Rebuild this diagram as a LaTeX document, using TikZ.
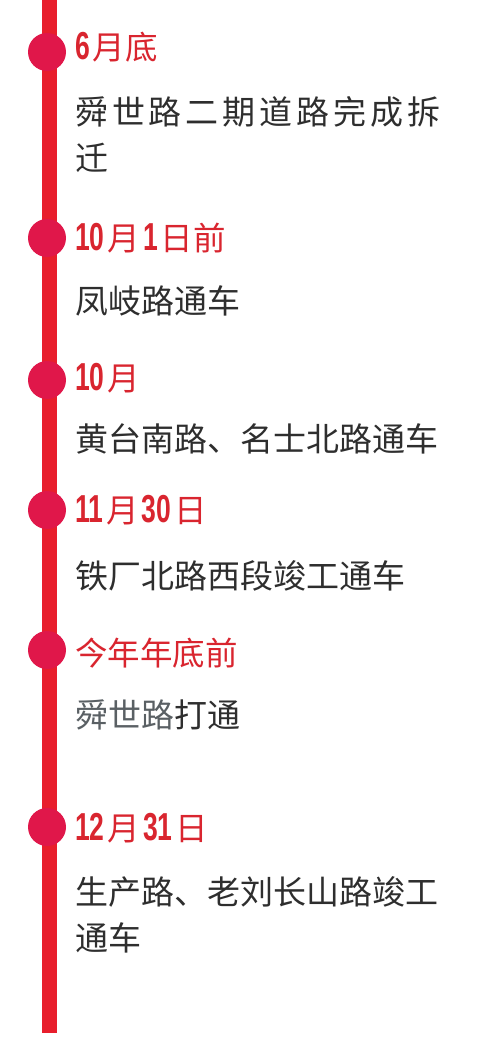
\documentclass[tikz,border=0pt]{standalone}
\usepackage{fontspec}
\usepackage{graphicx}
\setmainfont{Noto Sans CJK SC}
\newfontfamily\latinfont{Liberation Sans}
\usetikzlibrary{positioning}
\definecolor{linered}{HTML}{E81E2C}
\definecolor{dotred}{HTML}{E0174A}
\definecolor{headred}{HTML}{D9252F}
\definecolor{bodygray}{HTML}{2E2E2E}
\definecolor{softgray}{HTML}{5A6064}
\newcommand{\datenum}[1]{\hspace{3pt}{\latinfont\bfseries\fontsize{39}{39}\selectfont\scalebox{0.68}[1]{#1}}\hspace{3pt}}

\begin{document}
\begin{tikzpicture}[x=1pt,y=-1pt,
  timeline/.style={linered,line width=15pt},
  milestone/.style={circle,fill=dotred,minimum size=38pt,inner sep=0pt},
  headtext/.style={anchor=west,inner sep=0pt,text=headred,font=\fontsize{32.5}{32.5}\selectfont},
  bodytext/.style={anchor=north west,inner sep=0pt,text=bodygray,align=left,font=\fontsize{33}{46}\selectfont}]
\useasboundingbox (0,0) rectangle (500,1048);
\coordinate (top) at (49.5,0);
\coordinate (bottom) at (49.5,1033);
\draw[timeline] (top) -- (bottom);
% milestones
\node[milestone] (d1) at (47,52) {};
\node[milestone] (d2) at (47,238) {};
\node[milestone] (d3) at (47,380) {};
\node[milestone] (d4) at (47,510) {};
\node[milestone] (d5) at (47,650) {};
\node[milestone] (d6) at (47,827) {};
% headings
\node[headtext] (h1) at (72,47) {\datenum{6}月底};
\node[headtext] (h2) at (72,238) {\datenum{10}月\datenum{1}日前};
\node[headtext] (h3) at (72,378) {\datenum{10}月};
\node[headtext] (h4) at (72,510) {\datenum{11}月\datenum{30}日};
\node[headtext] (h5) at (75,653) {今年年底前};
\node[headtext] (h6) at (72,828) {\datenum{12}月\datenum{31}日};
% texts
\node[bodytext] (t1) at (75,96) {\makebox[365pt][s]{舜\hfill 世\hfill 路\hfill 二\hfill 期\hfill 道\hfill 路\hfill 完\hfill 成\hfill 拆}\\迁};
\node[bodytext] (t2) at (75,285) {凤岐路通车};
\node[bodytext] (t3) at (75,423) {黄台南路、名士北路通车};
\node[bodytext] (t4) at (75,560) {铁厂北路西段竣工通车};
\node[bodytext] (t5) at (75,700) {{\color{softgray}舜世路}打通};
\node[bodytext] (t6) at (75,876) {生产路、老刘长山路竣工\\通车};
\end{tikzpicture}
\end{document}
